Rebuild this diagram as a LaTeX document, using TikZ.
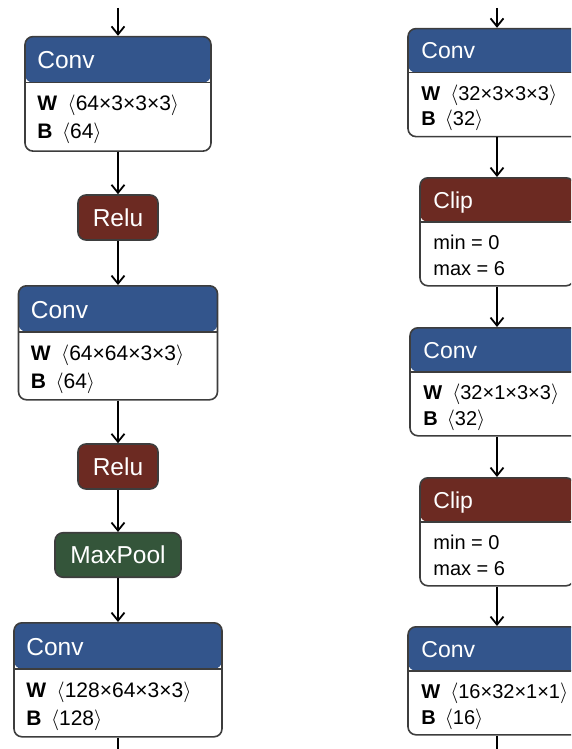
\documentclass[tikz,border=0pt]{standalone}
\usepackage{fontspec}
\setmainfont{Liberation Sans}
\usepackage{tikz}
\usetikzlibrary{arrows.meta}
\definecolor{convblue}{HTML}{33558C}
\definecolor{actred}{HTML}{6C2A22}
\definecolor{poolgreen}{HTML}{34553A}
\definecolor{edgegray}{HTML}{3D3D3D}
\tikzset{
  layer/.style={draw=edgegray,line width=1.6pt,fill=white,rounded corners=8pt,anchor=north,inner sep=0pt},
  act/.style={draw=edgegray,line width=1.6pt,rounded corners=8pt,text=white,inner sep=0pt,font=\fontsize{24.5}{25}\selectfont},
  headtxt/.style={anchor=base west,inner sep=0pt,text=white,font=\headfont},
  bodytxt/.style={anchor=base west,inner sep=0pt,font=\bodyfont},
  flow/.style={line width=1.8pt,-{Straight Barb[length=8pt,width=13pt,line width=1.8pt]}},
  flowout/.style={line width=1.8pt},
}
% box with coloured title bar and two text lines
\newcommand*{\layerbox}[8]{%
  \node[layer,minimum width=#3,minimum height=#4,
    path picture={\fill[#5]([yshift=2pt]path picture bounding box.north west) rectangle ([yshift=-\headh]path picture bounding box.north east);
      \draw[line width=1.6pt,edgegray]([yshift=-\headh]path picture bounding box.north west)--([yshift=-\headh]path picture bounding box.north east);}]
    (#1) at (#2) {};
  \node[headtxt] (#1-title) at ([xshift=\padx,yshift=-\headbase]#1.north west) {#6};
  \node[bodytxt] (#1-a) at ([xshift=\padx,yshift=-\lineA]#1.north west) {#7};
  \node[bodytxt] (#1-b) at ([xshift=\padx,yshift=-\lineB]#1.north west) {#8};
}
\newcommand*{\wdims}[1]{\textbf{W}\hspace{0.5em}$\langle$#1$\rangle$}
\newcommand*{\bdims}[1]{\textbf{B}\hspace{0.45em}$\langle$#1$\rangle$}

\begin{document}
\begin{tikzpicture}[x=1pt,y=-1pt]
\useasboundingbox (0,0) rectangle (571,749);
\clip (0,0) rectangle (571,749);

%% left column
\begin{scope}
\def\headh{46pt}\def\headbase{33pt}\def\lineA{75pt}\def\lineB{103pt}\def\padx{13pt}
\def\headfont{\fontsize{24.5}{25}\selectfont}\def\bodyfont{\fontsize{21}{21}\selectfont}
\coordinate (inL) at (118,8);
\coordinate (outL) at (118,749);
\layerbox{c1}{118,35.8}{186}{114.5}{convblue}{Conv}{\wdims{64×3×3×3}}{\bdims{64}}
\node[act,fill=actred,minimum width=80,minimum height=45] (r1) at (118,217.5) {Relu};
\layerbox{c2}{118,285}{199}{114}{convblue}{Conv}{\wdims{64×64×3×3}}{\bdims{64}}
\node[act,fill=actred,minimum width=80,minimum height=45] (r2) at (118,466.5) {Relu};
\node[act,fill=poolgreen,minimum width=126,minimum height=44.5] (mp) at (118,555) {MaxPool};
\layerbox{c3}{118,622}{208}{114}{convblue}{Conv}{\wdims{128×64×3×3}}{\bdims{128}}
\draw[flow] (inL) -- (c1);
\draw[flow] (c1) -- (r1);
\draw[flow] (r1) -- (c2);
\draw[flow] (c2) -- (r2);
\draw[flow] (r2) -- (mp);
\draw[flow] (mp) -- (c3);
\draw[flowout] (c3) -- (outL);
\end{scope}

%% right column
\begin{scope}
\def\headh{44pt}\def\headbase{31pt}\def\lineA{72.5pt}\def\lineB{98pt}\def\padx{14pt}
\def\headfont{\fontsize{23}{23}\selectfont}\def\bodyfont{\fontsize{20}{20}\selectfont}
\coordinate (inR) at (497,8);
\coordinate (outR) at (497,749);
\layerbox{rc1}{497,27.8}{178}{108}{convblue}{Conv}{\wdims{32×3×3×3}}{\bdims{32}}
\layerbox{cl1}{497,177}{154}{108}{actred}{Clip}{min = 0}{max = 6}
\layerbox{rc2}{497,327}{174}{108}{convblue}{Conv}{\wdims{32×1×3×3}}{\bdims{32}}
\layerbox{cl2}{497,477}{154}{108}{actred}{Clip}{min = 0}{max = 6}
\layerbox{rc3}{497,626}{178}{108}{convblue}{Conv}{\wdims{16×32×1×1}}{\bdims{16}}
\draw[flow] (inR) -- (rc1);
\draw[flow] (rc1) -- (cl1);
\draw[flow] (cl1) -- (rc2);
\draw[flow] (rc2) -- (cl2);
\draw[flow] (cl2) -- (rc3);
\draw[flowout] (rc3) -- (outR);
\end{scope}
\end{tikzpicture}
\end{document}
